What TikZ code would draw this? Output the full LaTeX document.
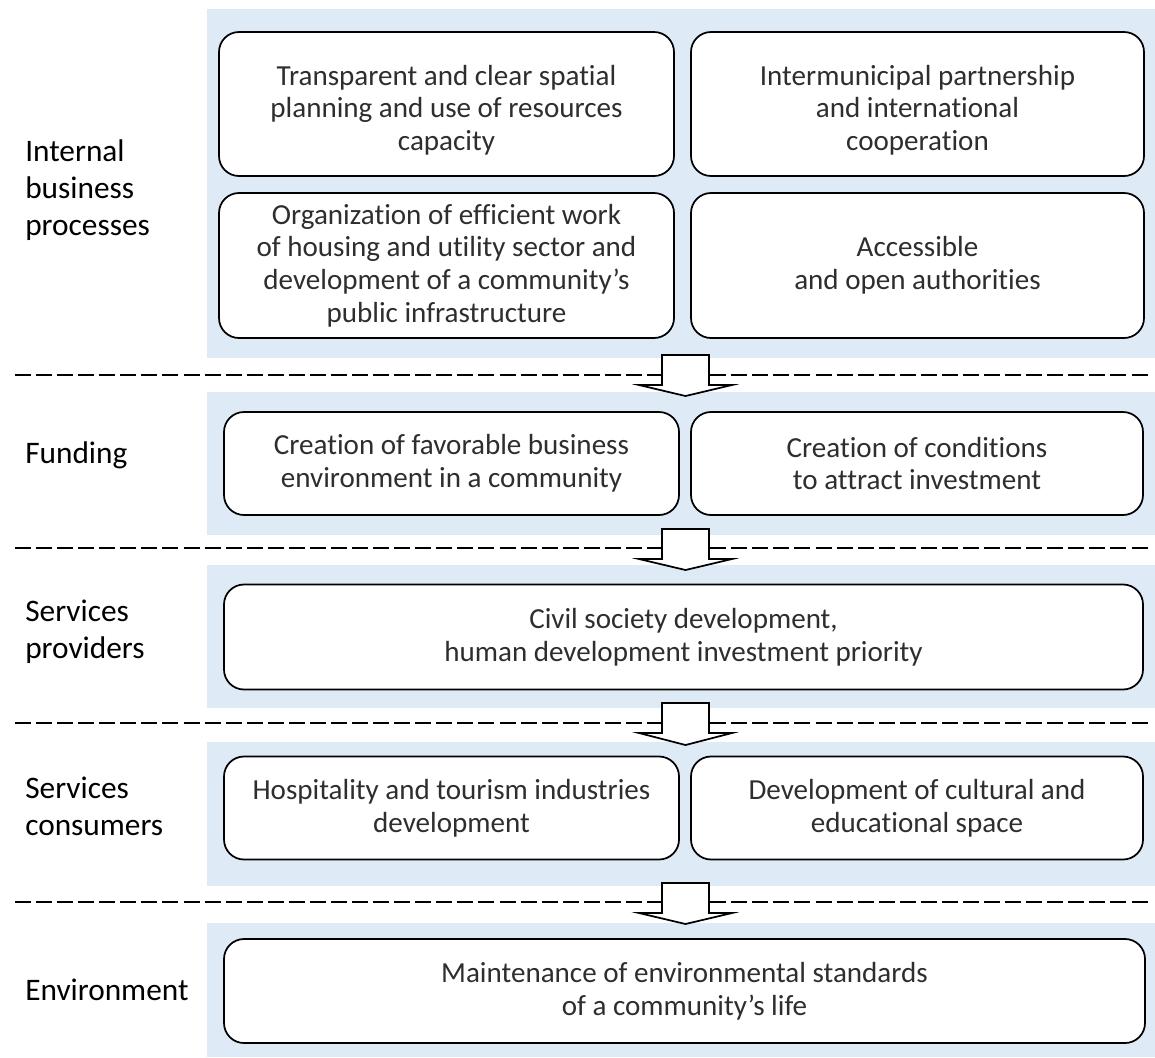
\documentclass[tikz,border=0pt]{standalone}
\usepackage{fontspec}
\setmainfont{Carlito}[Ligatures=NoCommon]
\definecolor{bandblue}{HTML}{DEEAF6}
\def\u{0.75pt}
\tikzset{
  band/.style={fill=bandblue, draw=none, inner sep=0pt, anchor=north west},
  boxtext/.style={align=center, font=\fontsize{21.8}{24.4}\selectfont, text=black!82, inner sep=0pt},
  box/.style={draw=black, line width=1.3pt, rounded corners=15pt, fill=white, boxtext},
  lbl/.style={anchor=west, align=left, font=\fontsize{23.5}{27.7}\selectfont, inner sep=0pt, text=black},
  sepline/.style={dash pattern=on 12pt off 3.8pt, line width=1.5pt, black},
  barrow/.style={draw=black, line width=1.3pt, fill=white, line join=miter}
}
\newcommand\blockarrow[3]{%
  \draw[barrow] (662,#1) -- (709,#1) -- (709,#2) -- (732,#2) -- (685.5,#3) -- (639,#2) -- (662,#2) -- cycle;}
\begin{document}
\begin{tikzpicture}[x=0.75pt,y=-0.75pt]
\useasboundingbox (0,0) rectangle (1155,1057);
% bands
\node[band, minimum width=948*\u, minimum height=349*\u] (b1) at (207,9) {};
\node[band, minimum width=948*\u, minimum height=143*\u] (b2) at (207,392) {};
\node[band, minimum width=948*\u, minimum height=143*\u] (b3) at (207,565) {};
\node[band, minimum width=948*\u, minimum height=144*\u] (b4) at (207,742) {};
\node[band, minimum width=948*\u, minimum height=134*\u] (b5) at (207,923) {};
% separators
\coordinate (s1a) at (15,375); \coordinate (s1b) at (1152,375);
\coordinate (s2a) at (15,548); \coordinate (s2b) at (1152,548);
\coordinate (s3a) at (15,723); \coordinate (s3b) at (1152,723);
\coordinate (s4a) at (15,902); \coordinate (s4b) at (1152,902);
\draw[sepline] (s1a) -- (s1b);
\draw[sepline] (s2a) -- (s2b);
\draw[sepline] (s3a) -- (s3b);
\draw[sepline] (s4a) -- (s4b);
% labels
\node[lbl] (l1) at (25,190) {Internal\\business\\processes};
\node[lbl] (l2) at (25,455) {Funding};
\node[lbl] (l3) at (25,632) {Services\\providers};
\node[lbl] (l4) at (25,806) {Services\\consumers};
\node[lbl] (l5) at (25,990) {Environment};
% boxes
\node[box, minimum width=455*\u, minimum height=144*\u] (a1) at (446.5,104) {};
\node[boxtext] (a1t) at ([yshift=-6*\u]a1.center) {Transparent and clear spatial\\planning and use of resources\\capacity};
\node[box, minimum width=453*\u, minimum height=144*\u] (a2) at (917.5,104) {};
\node[boxtext] (a2t) at ([yshift=-6*\u]a2.center) {Intermunicipal partnership\\and international\\cooperation};
\node[box, minimum width=455*\u, minimum height=145*\u] (a3) at (446.5,265.5) {Organization of efficient work\\of housing and utility sector and\\development of a community’s\\public infrastructure};
\node[box, minimum width=453*\u, minimum height=145*\u] (a4) at (917.5,265.5) {Accessible\\and open authorities};
\node[box, minimum width=455*\u, minimum height=103*\u] (f1) at (451.5,463.5) {Creation of favorable business\\environment in a community};
\node[box, minimum width=452*\u, minimum height=103*\u] (f2) at (917,463.5) {Creation of conditions\\to attract investment};
\node[box, minimum width=919*\u, minimum height=105*\u] (p1) at (683.5,637) {Civil society development,\\human development investment priority};
\node[box, minimum width=455*\u, minimum height=103*\u] (c1) at (451.5,808) {Hospitality and tourism industries\\development};
\node[box, minimum width=452*\u, minimum height=103*\u] (c2) at (917,808) {Development of cultural and\\educational space};
\node[box, minimum width=921*\u, minimum height=104*\u] (e1) at (684.5,991) {Maintenance of environmental standards\\of a community’s life};
% block arrows between bands
\blockarrow{355}{385}{396}
\blockarrow{529}{559}{570}
\blockarrow{703}{733}{745}
\blockarrow{883}{913}{924}
\end{tikzpicture}
\end{document}
